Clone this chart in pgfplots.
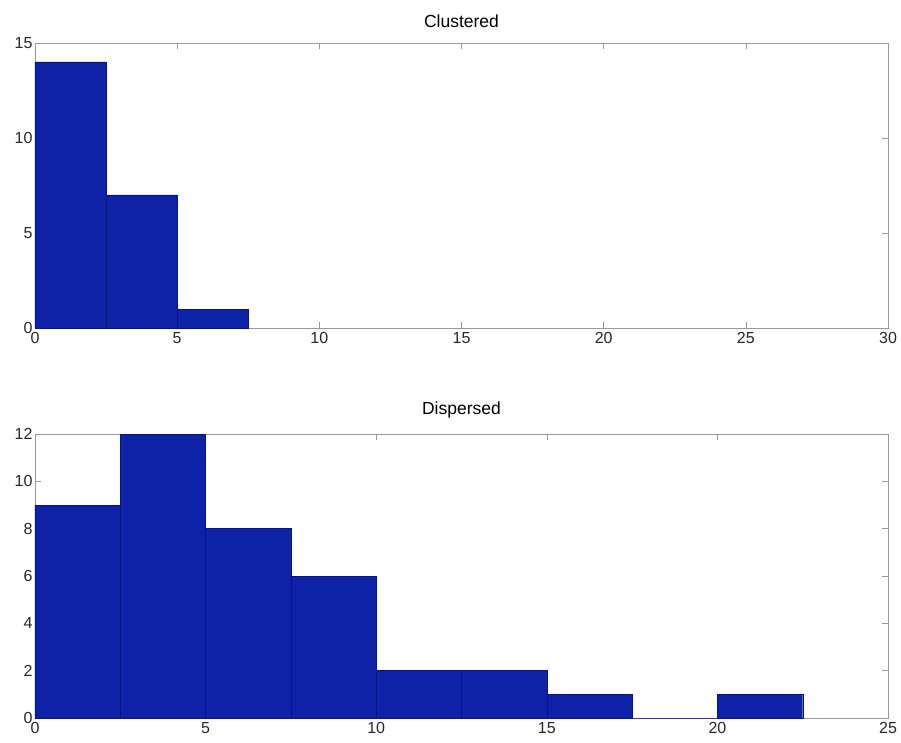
\documentclass[border=0pt]{standalone}
\usepackage{fontspec}
\setmainfont{Liberation Sans}
\usepackage{pgfplots}
\pgfplotsset{compat=1.18}
\definecolor{barblue}{RGB}{14,34,168}
\definecolor{baredge}{RGB}{8,20,120}

\pgfplotsset{
  histstyle/.style={
    scale only axis,
    width=853pt,
    axis line style={gray!80, line width=0.6pt},
    tick style={gray!80, line width=0.6pt},
    major tick length=6pt,
    tick align=inside,
    xtick pos=both, ytick pos=both,
    ticklabel style={font=\fontsize{16}{18}\selectfont, text=black!85},
    title style={font=\fontsize{17.5}{20}\selectfont, yshift=6pt},
    /pgf/number format/assume math mode=true,
    xticklabel style={yshift=-1pt},
    yticklabel style={xshift=1pt},
  }
}

\begin{document}
\begin{tikzpicture}[x=1pt,y=1pt]
  \path[use as bounding box] (0,0) rectangle (901,-743);

  % Clustered
  \begin{axis}[histstyle,
      at={(35pt,-328pt)}, anchor=south west,
      height=285pt,
      xmin=0, xmax=30, ymin=0, ymax=15,
      xtick={0,5,...,30}, ytick={0,5,10,15},
      title={Clustered}]
    \addplot[ybar interval=1, fill=barblue, draw=baredge] coordinates {
      (0,14) (2.5,7) (5,1) (7.5,0)
    };
  \end{axis}

  % Dispersed
  \begin{axis}[histstyle,
      at={(35pt,-718pt)}, anchor=south west,
      height=284pt,
      xmin=0, xmax=25, ymin=0, ymax=12,
      xtick={0,5,...,25}, ytick={0,2,...,12},
      title={Dispersed}]
    \addplot[ybar interval=1, fill=barblue, draw=baredge] coordinates {
      (0,9) (2.5,12) (5,8) (7.5,6) (10,2) (12.5,2) (15,1) (17.5,0) (20,1) (22.5,0)
    };
  \end{axis}
\end{tikzpicture}
\end{document}
